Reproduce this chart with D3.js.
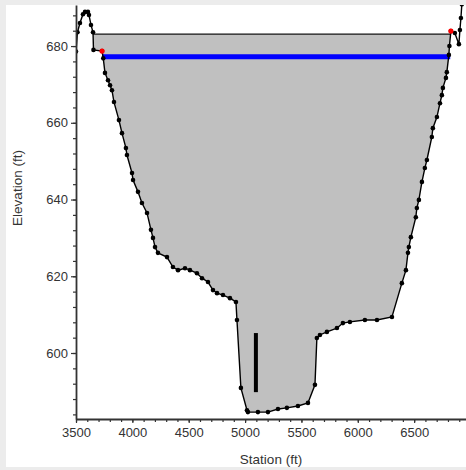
<!DOCTYPE html>
<html>
<head>
<meta charset="utf-8">
<script src="https://cdn.jsdelivr.net/npm/d3@7"></script>
<style>
  html, body { margin: 0; padding: 0; background: #ececec; }
  svg { display: block; }
</style>
</head>
<body>
<svg id="chart" width="466" height="470"></svg>
<script>
// Ground profile (station, elevation)
const stations = [3500, 3513, 3535, 3562, 3580, 3606, 3615, 3633, 3651, 3655, 3731, 3742, 3757, 3784, 3802, 3819,
    3837, 3881, 3908, 3943, 3952, 3997, 4006, 4050, 4085, 4130, 4165, 4183, 4201, 4227, 4307, 4360, 4405, 4467,
    4511, 4573, 4618, 4671, 4715, 4751, 4804, 4866, 4919, 4928, 4963, 5017, 5025, 5114, 5203, 5292, 5371, 5469,
    5558, 5620, 5637, 5664, 5726, 5815, 5868, 5930, 6063, 6170, 6303, 6391, 6427, 6445, 6453, 6471, 6515, 6524,
    6542, 6569, 6595, 6613, 6657, 6666, 6702, 6729, 6746, 6755, 6782, 6790, 6808, 6813, 6826, 6861, 6897, 6906,
    6915, 6923];
const elevations = [678.6, 683.6, 686.0, 688.3, 688.9, 688.9, 688.1, 685.5, 683.6, 679.0, 678.7, 676.8, 673.0, 671.1,
    669.8, 668.5, 665.4, 660.7, 657.3, 653.4, 651.6, 646.9, 645.1, 642.0, 639.1, 636.5, 632.1, 630.0, 627.6, 626.1,
    625.0, 622.4, 621.6, 622.1, 621.6, 620.8, 619.5, 618.5, 616.4, 615.6, 615.1, 614.3, 613.3, 608.6, 590.9, 585.1,
    584.6, 584.6, 584.6, 585.4, 585.7, 586.2, 587.0, 591.7, 603.9, 604.7, 605.5, 606.5, 607.8, 608.1, 608.6, 608.6,
    609.4, 618.2, 621.6, 626.1, 627.6, 630.2, 635.4, 637.8, 639.9, 644.6, 648.2, 650.3, 656.3, 658.6, 661.5, 665.1,
    667.2, 669.1, 671.7, 673.2, 677.7, 680.0, 683.9, 683.4, 680.5, 684.2, 687.3, 690.9];

const bankStations = [3731, 6826];      // red markers
const bankElevations = [678.7, 683.9];
const wsElev = 683.1;                   // grey fill top
const blueElev = 677.2;                 // blue level line
const blueStations = [3731, 6820];
const barStation = 5096;                // black vertical bar
const barElevs = [589.8, 605.2];

const xTicks = [3500, 4000, 4500, 5000, 5500, 6000, 6500];
const yTicks = [600, 620, 640, 660, 680];

const svg = d3.select("#chart");

// white panel
svg.append("rect").attr("x", 6).attr("y", 5).attr("width", 460).attr("height", 462).attr("fill", "#fff");

const plot = { left: 76, right: 466, top: 5, bottom: 419 };

const x = d3.scaleLinear().domain([3500, 6960]).range([plot.left, plot.right]);
const y = d3.scaleLinear().domain([582.8, 690.7]).range([plot.bottom, plot.top]);

svg.append("clipPath").attr("id", "clip")
    .append("rect")
    .attr("x", plot.left).attr("y", plot.top)
    .attr("width", plot.right - plot.left).attr("height", plot.bottom - plot.top);

const g = svg.append("g").attr("clip-path", "url(#clip)");

const ground = stations.map((s, i) => [s, elevations[i]]);

// find where ground crosses the WS level on each side of the thalweg
const low = d3.minIndex(elevations);
let li = low;
while (li > 0 && elevations[li - 1] < wsElev) li--;
let ri = low;
while (ri < ground.length - 1 && elevations[ri + 1] < wsElev) ri++;
const cross = (a, b) => a[0] + (wsElev - a[1]) / (b[1] - a[1]) * (b[0] - a[0]);
const leftX = cross(ground[li], ground[li - 1]);
const rightX = cross(ground[ri], ground[ri + 1]);

const poly = [[leftX, wsElev], ...ground.slice(li, ri + 1), [rightX, wsElev]];
const line = d3.line().x(d => x(d[0])).y(d => y(d[1]));

// grey fill
g.append("path")
    .attr("d", line(poly) + "Z")
    .attr("fill", "#c0c0c0")
    .attr("stroke", "none");

// WS line
g.append("line")
    .attr("x1", x(leftX)).attr("x2", x(rightX))
    .attr("y1", y(wsElev)).attr("y2", y(wsElev))
    .attr("stroke", "#111").attr("stroke-width", 1.3);

// blue line
g.append("line")
    .attr("x1", x(blueStations[0])).attr("x2", x(blueStations[1]))
    .attr("y1", y(blueElev)).attr("y2", y(blueElev))
    .attr("stroke", "#0000ff").attr("stroke-width", 5);

// ground line + dots
g.append("path")
    .attr("d", line(ground))
    .attr("fill", "none")
    .attr("stroke", "#000")
    .attr("stroke-width", 1.4);

g.selectAll(".pt")
    .data(ground)
    .enter()
    .append("circle")
    .attr("cx", d => x(d[0]))
    .attr("cy", d => y(d[1]))
    .attr("r", 2.3)
    .attr("fill", "#000");

// bank markers
g.selectAll(".bank")
    .data(bankStations)
    .enter()
    .append("circle")
    .attr("cx", d => x(d))
    .attr("cy", (d, i) => y(bankElevations[i]))
    .attr("r", 2.6)
    .attr("fill", "#ff0000");

// vertical bar
g.append("line")
    .attr("x1", x(barStation)).attr("x2", x(barStation))
    .attr("y1", y(barElevs[0])).attr("y2", y(barElevs[1]))
    .attr("stroke", "#000").attr("stroke-width", 4);

// axes
const fontFamily = "'Liberation Sans', Arial, sans-serif";

const xMinor = svg.append("g")
    .attr("transform", `translate(0,${plot.bottom})`)
    .call(d3.axisBottom(x).tickValues(d3.range(3500, 6960, 100)).tickSize(3).tickFormat(""));
xMinor.select(".domain").remove();

const xAxis = svg.append("g")
    .attr("transform", `translate(0,${plot.bottom})`)
    .call(d3.axisBottom(x).tickValues(xTicks).tickFormat(d3.format("d")).tickSize(4).tickSizeOuter(0).tickPadding(5));

const yMinor = svg.append("g")
    .attr("transform", `translate(${plot.left},0)`)
    .call(d3.axisLeft(y).tickValues(d3.range(584, 691, 4)).tickSize(3).tickFormat(""));
yMinor.select(".domain").remove();

const yAxis = svg.append("g")
    .attr("transform", `translate(${plot.left},0)`)
    .call(d3.axisLeft(y).tickValues(yTicks).tickFormat(d3.format("d")).tickSize(5).tickSizeOuter(0).tickPadding(3));

[xMinor, xAxis, yMinor, yAxis].forEach(a => {
    a.selectAll("line").attr("stroke", "#333").attr("stroke-width", 1.2);
    a.selectAll(".domain").attr("stroke", "#333").attr("stroke-width", 1.8);
    a.selectAll("text")
        .attr("fill", "#333")
        .style("font-family", fontFamily)
        .style("font-size", "13px");
});

// axis titles
svg.append("text")
    .text("Station (ft)")
    .attr("x", (plot.left + plot.right) / 2)
    .attr("y", 464)
    .attr("text-anchor", "middle")
    .attr("fill", "#333")
    .style("font-family", fontFamily)
    .style("font-size", "13.5px");

svg.append("text")
    .text("Elevation (ft)")
    .attr("transform", "translate(22,188) rotate(-90)")
    .attr("text-anchor", "middle")
    .attr("fill", "#333")
    .style("font-family", fontFamily)
    .style("font-size", "13.5px");
</script>
</body>
</html>
